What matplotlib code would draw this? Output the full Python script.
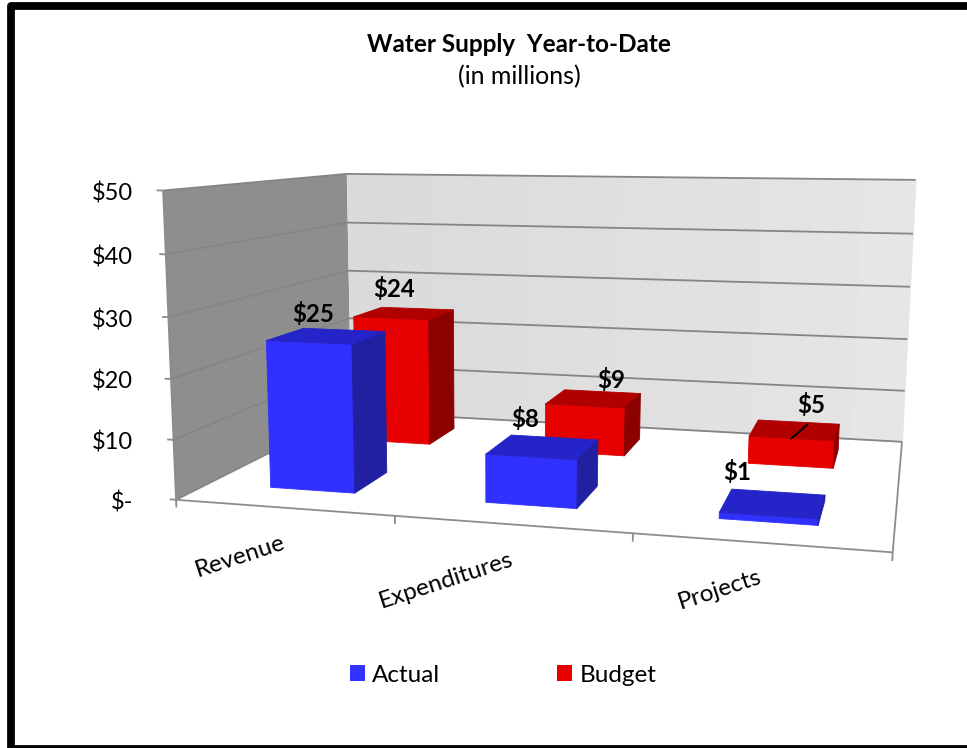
import numpy as np
import matplotlib
matplotlib.use("Agg")
import matplotlib.pyplot as plt
from matplotlib.lines import Line2D
from matplotlib.patches import Patch, Rectangle
from mpl_toolkits.mplot3d.art3d import Poly3DCollection

plt.rcParams['font.family'] = ['Lato', 'DejaVu Sans']

W, H = 967, 748

categories = ["Revenue", "Expenditures", "Projects"]
actual = [25, 8, 1]
budget = [24, 9, 5]
value_ticks = [0, 10, 20, 30, 40, 50]
value_labels = ["$-", "$10", "$20", "$30", "$40", "$50"]

# perspective of the chart: (category, depth, value, 1) to screen pixels from the top left
PROJ = np.array([
    [202.966421, 281.653578, -0.385297742, 176.05],
    [-4.70103896, 36.7282988, -6.33334261, 499.78214],
    [-0.0402347485, 0.303196518, -0.000775639794, 1.0],
])

# where the bars stand inside a category and along the depth axis
ACTUAL_BAR = dict(x=0.3001, w=0.4000, y0=0.1527, y1=0.3512)
BUDGET_BAR = dict(x=0.2994, w=0.3979, y0=0.6612, y1=0.8589)

GRID = '#858585'
AXIS = '#8c8c8c'
SIDE = 1000.0

fig = plt.figure(figsize=(W / 100, H / 100), dpi=100)
ax_left, ax_bottom = (W - SIDE) / 2, (H - SIDE) / 2
ax = fig.add_axes([ax_left / W, ax_bottom / H, SIDE / W, SIDE / H], projection='3d')
ax.computed_zorder = False
ax.set_axis_off()
ax.set_xlim(0, 3)
ax.set_ylim(0, 1)
ax.set_zlim(0, 50)

# mplot3d's camera can't shift its lens, so hand it the matrix directly
vl = ax.viewLim
K = SIDE / (vl.x1 - vl.x0)
view_matrix = np.array([
    (PROJ[0] + (vl.x0 * K - ax_left) * PROJ[2]) / K,
    (-PROJ[1] + (vl.y0 * K + H - ax_bottom) * PROJ[2]) / K,
    [0, -1, 0, -1],  # depth has to stay negative or Line3D masks the points
    PROJ[2],
])
ax.get_proj = lambda: view_matrix


def to_px(x, y, z):
    h = PROJ @ np.array([x, y, z, 1.0])
    return h[0] / h[2], h[1] / h[2]


def line3d(xs, ys, zs, color=AXIS, lw=1.3, zorder=3):
    ax.plot(xs, ys, zs, color=color, lw=lw, zorder=zorder, clip_on=False, solid_capstyle='butt')


def pixel_text(x, y, s, **kw):
    fig.text(x / W, 1 - y / H, s, **kw)


# walls and floor
walls = [
    ([(0, 0, 0), (3, 0, 0), (3, 1, 0), (0, 1, 0)], 'white'),
    ([(0, 0, 0), (0, 1, 0), (0, 1, 50), (0, 0, 50)], '#8e8e8e'),
]
for verts, col in walls:
    ax.add_collection3d(Poly3DCollection([verts], facecolor=col, zorder=1, clip_on=False))

# back wall gets lighter towards the right
strips = np.linspace(0, 3, 13)
shades = np.linspace(0.855, 0.90, 12)
for i, shade in enumerate(shades):
    poly = Poly3DCollection([[(strips[i], 1, 0), (strips[i + 1], 1, 0), (strips[i + 1], 1, 50), (strips[i], 1, 50)]],
                            facecolor=(shade, shade, shade), edgecolor=(shade, shade, shade), linewidth=0.5,
                            zorder=1, clip_on=False)
    ax.add_collection3d(poly)

# gridlines and axis lines
for v in value_ticks:
    line3d([0, 0, 3], [0, 1, 1], [v, v, v], color=GRID, zorder=2)
    line3d([0, -0.03], [0, 0], [v, v])
line3d([0, 0], [0, 0], [0, 50])
line3d([0, 3, 3], [0, 0, 1], [0, 0, 0])
for x in range(len(categories) + 1):
    line3d([x, x], [0, 0], [0, -1.3])

# bars
CLEAR = (0, 0, 0, 0)
series = [
    (budget, BUDGET_BAR, ['#b00000', '#e60000', '#8c0000'], 4),
    (actual, ACTUAL_BAR, ['#2424c8', '#3030ff', '#2020a0'], 5),
]
for vals, pos, (top, front, side), zo in series:
    # bottom, top, front, back, left, right
    colors = [CLEAR, top, front, CLEAR, CLEAR, side]
    for i, v in enumerate(vals):
        bar = ax.bar3d(i + pos['x'], pos['y0'], 0, pos['w'], pos['y1'] - pos['y0'], v,
                       color=colors, edgecolors=colors, linewidths=0.6, shade=False, zorder=zo)
        bar.set_clip_on(False)

# value labels
for v, label in zip(value_ticks, value_labels):
    _, y = to_px(0, 0, v)
    pixel_text(133, y + 3, label, ha='right', va='center', fontsize=17)

# category labels
for i, label in enumerate(categories):
    x, y = to_px(i + 0.5, 0, 0)
    pixel_text(x + 1, y + 34, label, ha='right', va='center', fontsize=17.5, rotation=18, rotation_mode='anchor')

# data labels, offset by hand from the back left corner of each bar top
label_offsets = {
    'actual': [(10, -14), (14, -16), (5, -17)],
    'budget': [(12, -18), (47, -10), (53, -15)],
}
for name, vals, pos in (('actual', actual, ACTUAL_BAR), ('budget', budget, BUDGET_BAR)):
    for i, v in enumerate(vals):
        x, y = to_px(i + pos['x'], pos['y1'], v)
        dx, dy = label_offsets[name][i]
        pixel_text(x + dx, y + dy, f"${v}", ha='center', va='center', fontsize=17.3, fontweight='bold')

# leader line of the last budget label
x, y = to_px(2 + BUDGET_BAR['x'] + BUDGET_BAR['w'] / 2, BUDGET_BAR['y0'], budget[2])
fig.add_artist(Line2D([x / W, (x + 16) / W], [1 - y / H, 1 - (y - 14) / H], color='black', lw=1.3))

# titles
pixel_text(519, 45, "Water Supply  Year-to-Date", ha='center', va='center', fontsize=17.5, fontweight='bold')
pixel_text(519, 77, "(in millions)", ha='center', va='center', fontsize=18)

# legend
handles = [Patch(facecolor='#3333ff', label='Actual'), Patch(facecolor='#e60000', label='Budget')]
fig.legend(handles=handles, loc='center', bbox_to_anchor=(503 / W, 1 - 675 / H), ncol=2, frameon=False,
           fontsize=17.5, handlelength=0.63, handleheight=0.63, handletextpad=0.3, columnspacing=4.78)

# black frame round the chart, cut off on the right by the picture edge
fig.add_artist(Rectangle((11 / W, -1 / H), 970 / W, 1 + (1 - 5.5) / H, transform=fig.transFigure, fill=False,
                         edgecolor='black', linewidth=5.6, joinstyle='round'))

fig.savefig("out.png", dpi=100)
